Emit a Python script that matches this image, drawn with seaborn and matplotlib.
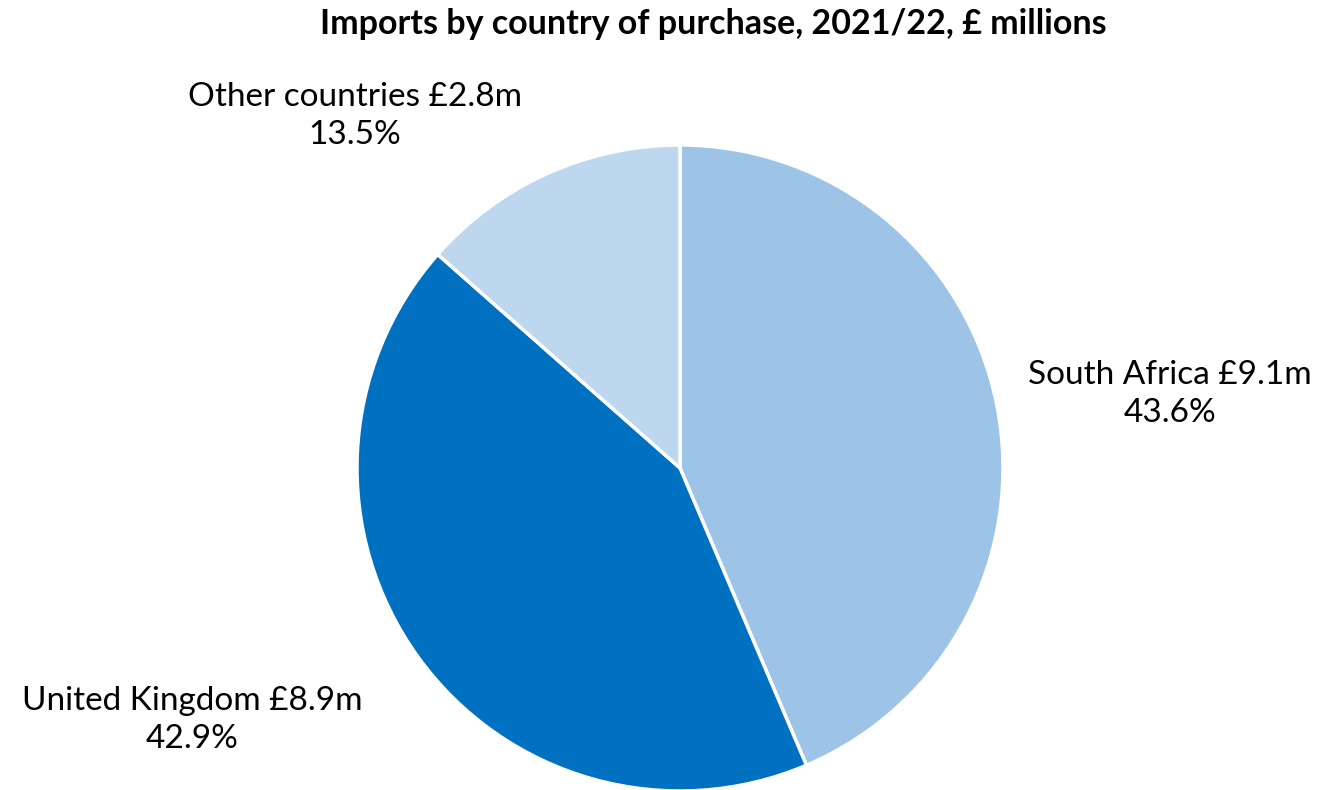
import matplotlib
matplotlib.use("Agg")
import matplotlib.pyplot as plt
import seaborn as sns

categories = ["South Africa", "United Kingdom", "Other countries"]
values_m = [9.1, 8.9, 2.8]
shares = [43.6, 42.9, 13.5]
colors = ["#9DC3E6", "#0070C0", "#BDD7EE"]
title = "Imports by country of purchase, 2021/22, £ millions"

sns.set_theme(style="white")
plt.rcParams["font.family"] = ["Lato", "DejaVu Sans"]

W, H = 1319, 790
fig = plt.figure(figsize=(W / 100, H / 100), dpi=100)
ax = fig.add_axes([0, 0, 1, 1])

wedges, _ = ax.pie(shares, colors=colors, startangle=90, counterclock=False,
                   center=(680, H - 468), radius=323,
                   wedgeprops=dict(edgecolor="white", linewidth=2.5),
                   frame=True)
ax.set_xlim(0, W)
ax.set_ylim(0, H)
ax.set_aspect("equal")
ax.axis("off")

label_pos = [(1170, H - 394), (192, H - 720), (355, H - 116)]
for cat, v, s, (x, y) in zip(categories, values_m, shares, label_pos):
    ax.text(x, y, f"{cat} £{v:.1f}m\n{s:.1f}%", ha="center", va="center",
            fontsize=24, color="#000000", linespacing=1.3)

fig.text(713 / W, 1 - 24 / H, title, ha="center", va="center",
         fontsize=24.5, fontweight="bold", color="#000000")

fig.savefig("out.png", dpi=100, facecolor="white")
